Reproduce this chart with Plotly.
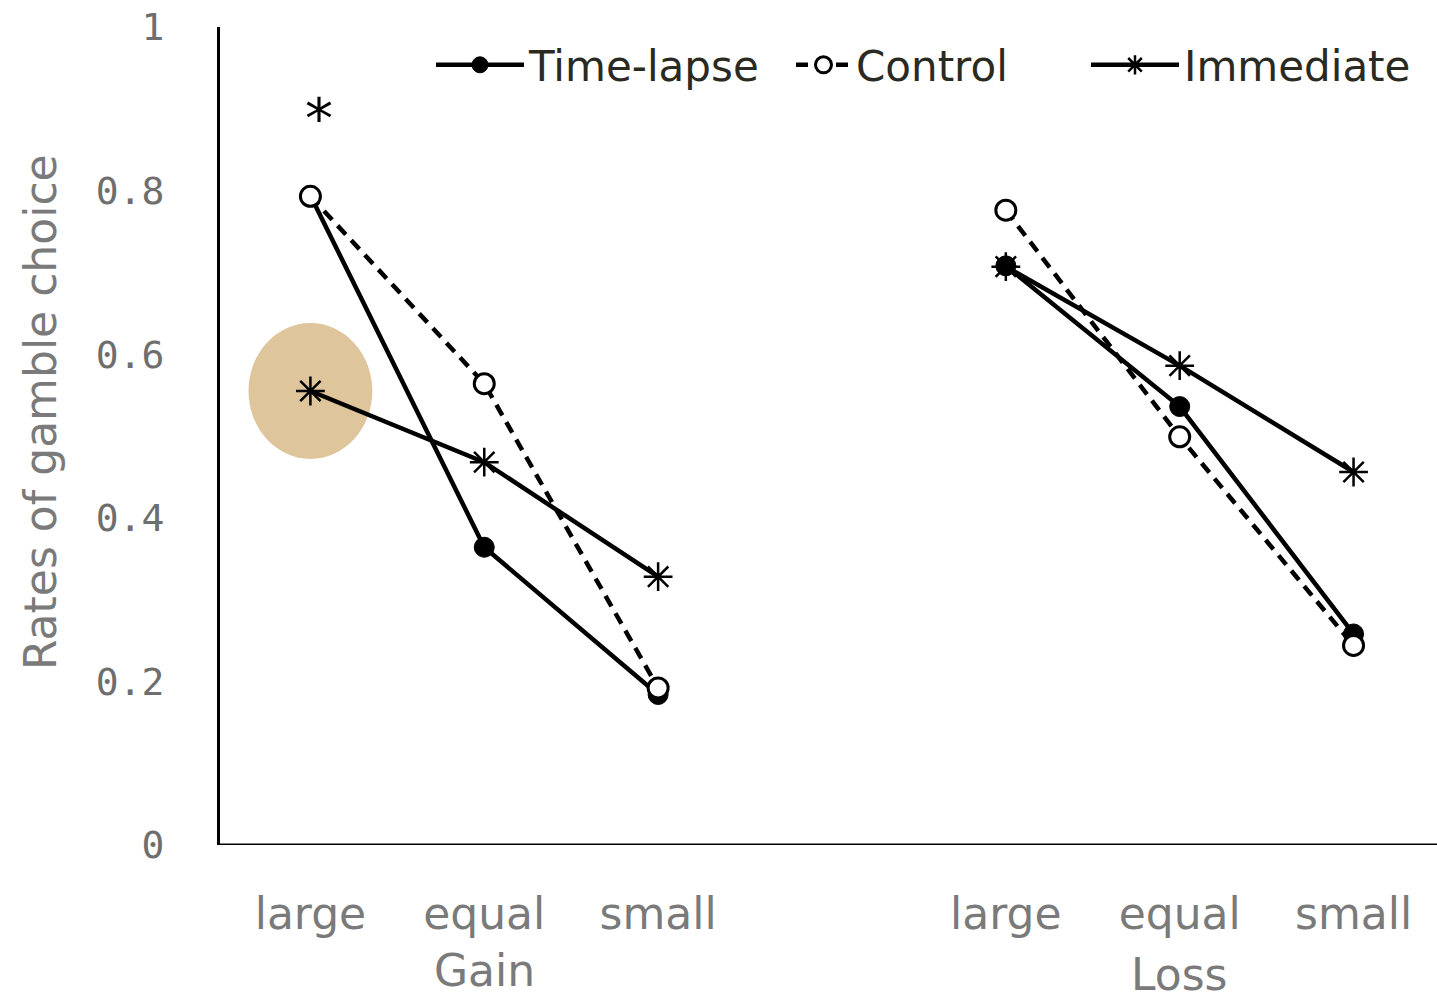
import plotly.graph_objects as go

# Data
categories = ["large", "equal", "small", "large", "equal", "small"]
x_pos = [0, 1, 2, 4, 5, 6]
groups = ["Gain", "Loss"]
time_lapse = [0.794, 0.364, 0.184, 0.708, 0.536, 0.258]
control = [0.793, 0.564, 0.192, 0.776, 0.499, 0.244]
immediate = [0.555, 0.468, 0.328, 0.707, 0.586, 0.456]
y_ticks = [0, 0.2, 0.4, 0.6, 0.8, 1]
y_ticktext = ["0", "0.2", "0.4", "0.6", "0.8", "1"]

FONT = "DejaVu Sans"
GRAY = "#7a7a7a"
L, R, T, B = 220, 0, 27, 155
W, H = 1437, 1000
PW, PH = W - L - R, H - T - B


def px_x(px):
    return (px - L) / PW


def px_y(py):
    return (H - B - py) / PH


def split(vals):
    # insert a gap between Gain and Loss groups
    return x_pos[:3] + [None] + x_pos[3:], vals[:3] + [None] + vals[3:]


fig = go.Figure()

xs, ys = split(time_lapse)
fig.add_trace(go.Scatter(
    x=xs, y=ys, name="Time-lapse", mode="lines+markers", legend="legend",
    line=dict(color="black", width=4.5),
    marker=dict(symbol="circle", size=20, color="black", line=dict(color="black", width=1)),
))
xs, ys = split(control)
fig.add_trace(go.Scatter(
    x=xs, y=ys, name="Control", mode="lines+markers", legend="legend2",
    line=dict(color="black", width=4.5, dash="12px,8px"),
    marker=dict(symbol="circle", size=20, color="white", line=dict(color="black", width=3)),
))
xs, ys = split(immediate)
fig.add_trace(go.Scatter(
    x=xs, y=ys, name="Immediate", mode="lines+markers", legend="legend3",
    line=dict(color="black", width=4.5),
    marker=dict(symbol="asterisk-open", size=24, color="black", line=dict(color="black", width=2.5)),
))

# Highlight ellipse around the Gain-large Immediate point
hx, hy = x_pos[0], immediate[0]
fig.add_shape(type="circle", xref="x", yref="y",
              x0=hx - 0.356, x1=hx + 0.356, y0=hy - 0.083, y1=hy + 0.083,
              fillcolor="#dfc59c", line=dict(width=0), layer="below")

# significance asterisk
fig.add_annotation(x=0.05, y=0.9, xref="x", yref="y", text="*", showarrow=False,
                   font=dict(family=FONT, size=56, color="black"), yshift=-10)

# group labels
fig.add_annotation(x=1, y=px_y(970), xref="x", yref="paper", text=groups[0], showarrow=False,
                   yanchor="middle", font=dict(family=FONT, size=44, color=GRAY))
fig.add_annotation(x=5, y=px_y(974), xref="x", yref="paper", text=groups[1], showarrow=False,
                   yanchor="middle", font=dict(family=FONT, size=44, color=GRAY))

# y-axis title
fig.add_annotation(x=px_x(40), y=px_y(412), xref="paper", yref="paper",
                   text="Rates of gamble choice", textangle=-90, showarrow=False,
                   xanchor="center", yanchor="middle",
                   font=dict(family=FONT, size=44, color=GRAY))

leg_font = dict(family=FONT, size=42, color="#2a2a22")
leg_common = dict(orientation="h", yanchor="middle", xanchor="left",
                  font=leg_font, bgcolor="rgba(0,0,0,0)")

fig.update_layout(
    width=W, height=H,
    margin=dict(l=L, r=R, t=T, b=B),
    plot_bgcolor="white", paper_bgcolor="white",
    font=dict(family=FONT, color="#222"),
    showlegend=True,
    legend=dict(x=px_x(431), y=px_y(65), itemwidth=88, **leg_common),
    legend2=dict(x=px_x(791), y=px_y(65), itemwidth=55, **leg_common),
    legend3=dict(x=px_x(1086), y=px_y(65), itemwidth=88, **leg_common),
    xaxis=dict(range=[-0.52, 6.48], tickvals=x_pos, ticktext=categories,
               showgrid=False, zeroline=False, showline=False, automargin=False,
               ticks="", ticklabelstandoff=39,
               tickfont=dict(family=FONT, size=44, color=GRAY)),
    yaxis=dict(range=[0, 1], tickvals=y_ticks, ticktext=y_ticktext,
               showgrid=False, zeroline=False, showline=True, linecolor="black", linewidth=3,
               ticks="", ticklabelstandoff=45, automargin=False,
               tickfont=dict(family="DejaVu Sans Mono", size=38, color="#6e6e6e")),
)
# x-axis baseline
fig.add_shape(type="line", xref="paper", yref="y", x0=0, x1=1, y0=0, y1=0,
              line=dict(color="black", width=3))

fig.write_html(
    "out.html",
    config={"displayModeBar": False},
    post_script="document.body.style.margin='0';document.body.style.overflow='hidden';",
)
